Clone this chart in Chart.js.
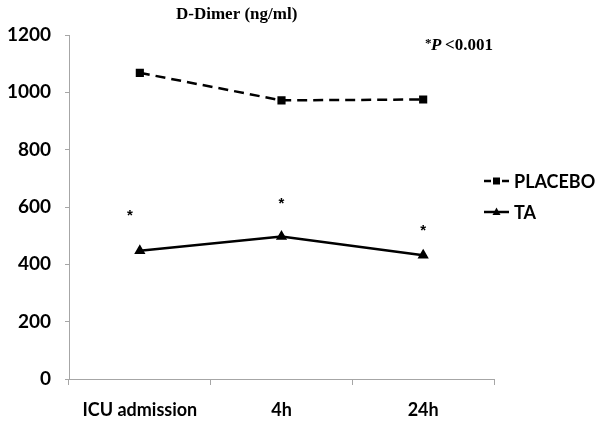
<!DOCTYPE html>
<html>
<head>
<meta charset="utf-8">
<script src="https://cdn.jsdelivr.net/npm/chart.js@4"></script>
<style>
  html, body { margin: 0; padding: 0; background: #fff; }
  #wrap { width: 600px; height: 427px; position: relative; }
</style>
</head>
<body>
<div id="wrap"><canvas id="grafico"></canvas></div>
<script>
// datos
const momentos = ["ICU admission", "4h", "24h"];
const placebo = [1068, 972, 975];
const ta = [447, 497, 432];
const asteriscos = [580, 620, 528]; // altura de los * sobre TA
const ticksY = [0, 200, 400, 600, 800, 1000, 1200];

const gris = "#a6a6a6";
const fuenteEje = { family: "Lato", size: 18, weight: "bold" };

// dibuja el titulo, la nota de p, los asteriscos y la leyenda
const extras = {
  id: "extras",
  afterDatasetsDraw(chart) {
    const { ctx, scales } = chart;
    ctx.save();
    ctx.fillStyle = "#000";

    // titulo
    ctx.font = "bold 17px 'Liberation Serif'";
    ctx.textAlign = "left";
    ctx.textBaseline = "middle";
    ctx.fillText("D-Dimer (ng/ml)", 176, 15);

    // *P <0.001
    ctx.font = "bold 13px 'Liberation Serif'";
    ctx.fillText("*", 425, 44);
    ctx.font = "bold italic 17px 'Liberation Serif'";
    ctx.fillText("P", 431, 46);
    ctx.font = "bold 17px 'Liberation Serif'";
    ctx.fillText("<0.001", 445, 46);

    // asteriscos de significancia
    ctx.font = "bold 15px 'Liberation Sans'";
    ctx.textAlign = "center";
    asteriscos.forEach((v, i) => {
      const x = scales.x.getPixelForValue(i) - (i === 0 ? 10 : 0);
      ctx.fillText("*", x, scales.y.getPixelForValue(v) + 3);
    });

    // leyenda
    ctx.strokeStyle = "#000";
    ctx.lineWidth = 2.5;
    let y = 181;
    ctx.beginPath();
    ctx.moveTo(484, y); ctx.lineTo(491, y);
    ctx.moveTo(502, y); ctx.lineTo(509, y);
    ctx.stroke();
    ctx.fillRect(493, y - 3.5, 7, 7);
    y = 212;
    ctx.beginPath();
    ctx.moveTo(484, y); ctx.lineTo(509, y);
    ctx.stroke();
    ctx.beginPath();
    ctx.moveTo(496.5, y - 4.5); ctx.lineTo(500.5, y + 3); ctx.lineTo(492.5, y + 3);
    ctx.closePath();
    ctx.fill();

    ctx.font = "bold 18px Lato";
    ctx.textAlign = "left";
    ctx.fillText("PLACEBO", 514, 182);
    ctx.fillText("TA", 514, 213);
    ctx.restore();
  },
};

const canvas = document.getElementById("grafico");

new Chart(canvas, {
  type: "line",
  data: {
    labels: momentos,
    datasets: [
      {
        label: "PLACEBO",
        data: placebo,
        borderColor: "#000",
        backgroundColor: "#000",
        borderWidth: 2.5,
        borderDash: [10, 6],
        pointStyle: "rect",
        pointRadius: 4,
        tension: 0,
      },
      {
        label: "TA",
        data: ta,
        borderColor: "#000",
        backgroundColor: "#000",
        borderWidth: 2.5,
        pointStyle: "triangle",
        pointRadius: 4,
        tension: 0,
      },
    ],
  },
  options: {
    responsive: true,
    maintainAspectRatio: false,
    animation: false,
    layout: { padding: { top: 35, right: 106, left: 0, bottom: 0 } },
    plugins: { legend: { display: false }, tooltip: { enabled: false } },
    scales: {
      x: {
        offset: true,
        grid: { offset: true, drawOnChartArea: false, color: gris, tickLength: 6 },
        border: { color: gris, width: 1 },
        ticks: { color: "#000", font: fuenteEje, padding: 14, maxRotation: 0 },
        afterFit: (s) => { s.height = 48; },
      },
      y: {
        min: 0,
        max: 1200,
        afterBuildTicks: (s) => { s.ticks = ticksY.map((v) => ({ value: v })); },
        grid: { drawOnChartArea: false, color: gris, tickLength: 4 },
        border: { color: gris, width: 1 },
        ticks: { color: "#000", font: { family: "Lato", size: 19, weight: "bold" }, padding: 14, callback: (v) => String(v) },
        afterFit: (s) => { s.width = 69; },
      },
    },
  },
  plugins: [extras],
});
</script>
</body>
</html>
